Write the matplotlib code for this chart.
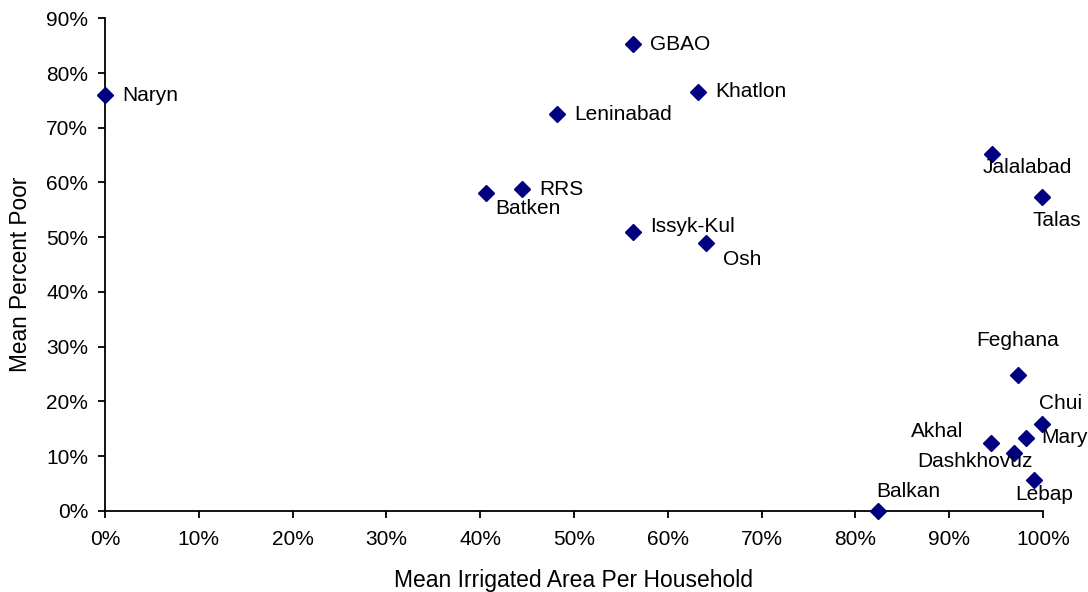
import matplotlib
matplotlib.use("Agg")
import matplotlib.pyplot as plt
from matplotlib.ticker import PercentFormatter, MultipleLocator

plt.rcParams['font.family'] = ['Liberation Sans', 'DejaVu Sans']

# oblast / province names with irrigated area share and poverty share
regions = ["Naryn", "GBAO", "Khatlon", "Leninabad", "RRS", "Batken",
           "Issyk-Kul", "Osh", "Jalalabad", "Talas", "Feghana", "Chui",
           "Mary", "Akhal", "Dashkhovuz", "Lebap", "Balkan"]
irrigated = [0.000, 0.563, 0.632, 0.482, 0.445, 0.406,
             0.563, 0.641, 0.946, 0.999, 0.973, 0.999,
             0.982, 0.945, 0.969, 0.990, 0.824]
poor = [0.759, 0.853, 0.766, 0.725, 0.588, 0.580,
        0.509, 0.489, 0.652, 0.573, 0.248, 0.158,
        0.133, 0.124, 0.106, 0.057, 0.000]

# label offsets in pixels (dx, dy, ha)
label_pos = {
    "Naryn": (17, 0, "left"), "GBAO": (17, 0, "left"),
    "Khatlon": (17, 0, "left"), "Leninabad": (17, 0, "left"),
    "RRS": (17, 0, "left"), "Batken": (9, -15, "left"),
    "Issyk-Kul": (17, 6, "left"), "Osh": (17, -16, "left"),
    "Jalalabad": (-10, -13, "left"), "Talas": (-10, -23, "left"),
    "Feghana": (0, 35, "center"), "Chui": (-3, 21, "left"),
    "Mary": (15, 0, "left"), "Akhal": (-28, 11, "right"),
    "Dashkhovuz": (19, -9, "right"), "Lebap": (-18, -15, "left"),
    "Balkan": (-2, 19, "left"),
}

fs = 15

fig = plt.figure(figsize=(10.88, 5.92), dpi=100)
ax = fig.add_axes([0.0965, 0.1373, 0.8621, 0.8317])

ax.plot(irrigated, poor, linestyle="none", marker="D", markersize=8.5,
        color="#000080", clip_on=False, zorder=3)

for name, x, y in zip(regions, irrigated, poor):
    dx, dy, ha = label_pos[name]
    ax.annotate(name, (x, y), xytext=(dx, dy), textcoords="offset pixels",
                ha=ha, va="center", fontsize=fs, color="black", zorder=4)

ax.set_xlim(0, 1.0)
ax.set_ylim(0, 0.9)
ax.xaxis.set_major_locator(MultipleLocator(0.1))
ax.yaxis.set_major_locator(MultipleLocator(0.1))
ax.xaxis.set_major_formatter(PercentFormatter(1.0, decimals=0))
ax.yaxis.set_major_formatter(PercentFormatter(1.0, decimals=0))

for side in ("top", "right"):
    ax.spines[side].set_visible(False)
for side in ("left", "bottom"):
    ax.spines[side].set_linewidth(1.3)
    ax.spines[side].set_color("black")

ax.tick_params(axis="both", direction="out", length=5, width=1.3,
               labelsize=fs, colors="black")
ax.tick_params(axis="x", pad=9)
ax.tick_params(axis="y", pad=7)

ax.set_xlabel("Mean Irrigated Area Per Household", fontsize=16.5, va="center")
ax.set_ylabel("Mean Percent Poor", fontsize=16.3, va="center")
ax.xaxis.set_label_coords(0.5, -0.141)
ax.yaxis.set_label_coords(-0.0906, 0.481)

fig.savefig("out.png", dpi=100)
